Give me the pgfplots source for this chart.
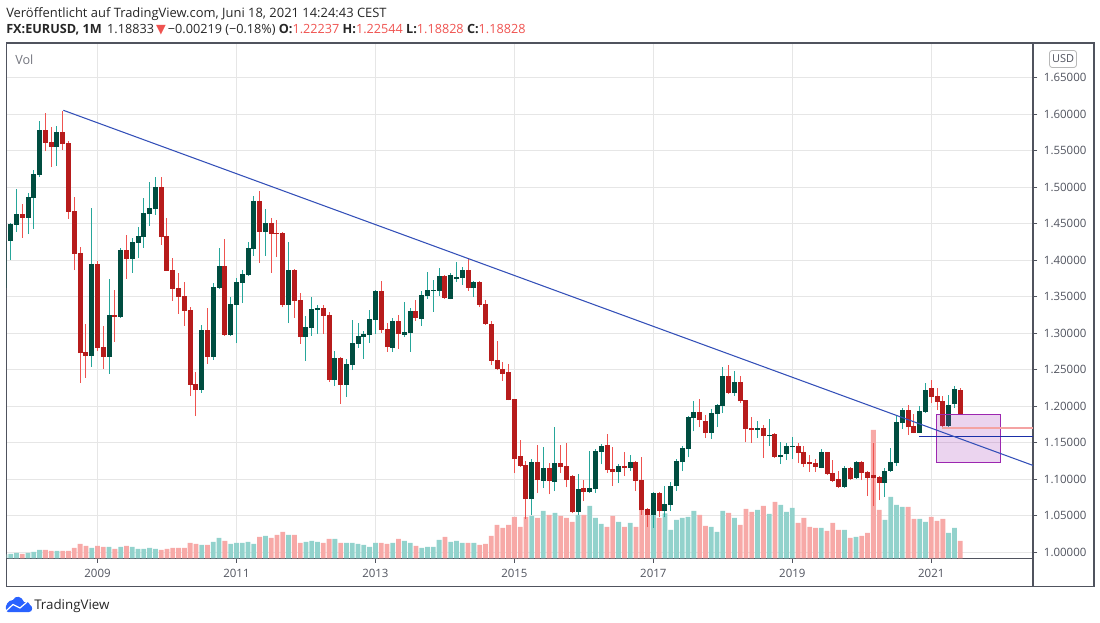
\documentclass[border=0pt]{standalone}
\usepackage{fontspec}
\usepackage{pgfplots}
\usepackage{pgfplotstable}
\pgfplotsset{compat=1.18}
\setmainfont{Open Sans}
\newfontfamily\symfont{DejaVu Sans}

\definecolor{upbody}{HTML}{004D40}
\definecolor{downbody}{HTML}{B71C1C}
\definecolor{upwick}{HTML}{26A69A}
\definecolor{downwick}{HTML}{EF5350}
\definecolor{upvol}{HTML}{92D2CC}
\definecolor{downvol}{HTML}{F7A9A7}
\definecolor{gridc}{HTML}{E6E6E6}
\definecolor{framec}{HTML}{50535E}
\definecolor{trendc}{HTML}{3450B8}
\definecolor{levelblue}{HTML}{1A2FA8}
\definecolor{levelred}{HTML}{F4A3A3}
\definecolor{boxc}{HTML}{9C27B0}
\definecolor{tvblue}{HTML}{2962FF}

% month index: 0 = Jan 2009; o h l c in EURUSD, v = bar height of the Vol pane
\pgfplotstableread{
m o h l c v
-16 1.3625 1.4324 1.3593 1.4265 12
-15 1.4265 1.4507 1.4004 1.4497 13
-14 1.4484 1.4977 1.4388 1.4634 16
-12 1.4580 1.4922 1.4360 1.4867 16
-11 1.4854 1.5237 1.4429 1.5182 19
-10 1.5169 1.5908 1.5141 1.5785 25
-7 1.5552 1.5840 1.5292 1.5758 22
-1 1.2689 1.4717 1.2539 1.3950 31
2 1.2676 1.3744 1.2443 1.3251 34
4 1.3224 1.4169 1.3210 1.4141 34
6 1.4018 1.4306 1.3826 1.4251 34
7 1.4237 1.4456 1.4032 1.4333 28
8 1.4319 1.4854 1.4169 1.4648 28
9 1.4634 1.5073 1.4470 1.4717 31
10 1.4703 1.5141 1.4621 1.5004 28
18 1.2224 1.3114 1.2183 1.3045 40
20 1.2676 1.3689 1.2635 1.3635 49
21 1.3621 1.4169 1.3607 1.3922 61
23 1.2977 1.3498 1.2963 1.3402 43
24 1.3388 1.3758 1.2867 1.3703 46
25 1.3689 1.3867 1.3415 1.3813 46
26 1.3799 1.4251 1.3785 1.4169 49
27 1.4155 1.4881 1.4059 1.4813 43
29 1.4388 1.4703 1.4059 1.4511 67
33 1.3388 1.4251 1.3141 1.3867 70
36 1.2949 1.3237 1.2621 1.3086 49
37 1.3073 1.3497 1.2963 1.3333 52
38 1.3319 1.3388 1.2990 1.3347 49
41 1.2360 1.2758 1.2278 1.2662 58
43 1.2292 1.2648 1.2128 1.2580 46
44 1.2566 1.3182 1.2497 1.2867 46
45 1.2854 1.3141 1.2799 1.2963 43
46 1.2949 1.3032 1.2648 1.2990 40
47 1.2977 1.3319 1.2867 1.3196 34
48 1.3182 1.3593 1.2990 1.3580 46
51 1.2799 1.3210 1.2744 1.3169 46
53 1.2977 1.3429 1.2949 1.3018 52
54 1.3004 1.3347 1.2744 1.3306 46
56 1.3196 1.3580 1.3100 1.3525 31
57 1.3511 1.3840 1.3470 1.3593 34
58 1.3580 1.3730 1.3292 1.3593 34
59 1.3580 1.3895 1.3511 1.3785 55
61 1.3470 1.3826 1.3465 1.3799 49
62 1.3744 1.3977 1.3703 1.3771 52
63 1.3758 1.3908 1.3662 1.3867 46
65 1.3621 1.3710 1.3497 1.3703 46
75 1.0727 1.1275 1.0508 1.1234 127
77 1.0974 1.1439 1.0878 1.1152 142
79 1.0960 1.1713 1.0837 1.1220 136
83 1.0549 1.1069 1.0508 1.0864 130
85 1.0823 1.1385 1.0809 1.0878 157
86 1.0864 1.1412 1.0809 1.1385 121
87 1.1371 1.1480 1.1206 1.1453 103
90 1.1097 1.1206 1.0946 1.1179 109
92 1.1152 1.1330 1.1111 1.1234 106
96 1.0508 1.0823 1.0330 1.0809 130
98 1.0563 1.0905 1.0480 1.0659 135
99 1.0645 1.0960 1.0563 1.0905 85
100 1.0905 1.1275 1.0837 1.1248 115
101 1.1234 1.1453 1.1111 1.1426 121
102 1.1412 1.1864 1.1302 1.1850 124
103 1.1837 1.2069 1.1658 1.1919 142
106 1.1631 1.1960 1.1549 1.1905 94
107 1.1891 1.2028 1.1713 1.2015 79
108 1.2001 1.2535 1.1905 1.2412 142
110 1.2179 1.2480 1.2138 1.2330 121
114 1.1672 1.1795 1.1563 1.1700 145
116 1.1590 1.1823 1.1453 1.1604 133
118 1.1305 1.1511 1.1209 1.1333 160
119 1.1346 1.1497 1.1264 1.1456 139
120 1.1442 1.1579 1.1278 1.1456 151
125 1.1155 1.1415 1.1150 1.1374 91
129 1.0894 1.1182 1.0881 1.1155 85
131 1.1018 1.1251 1.1004 1.1237 64
136 1.0949 1.1155 1.0757 1.1114 115
137 1.1114 1.1429 1.1100 1.1237 184
138 1.1223 1.1881 1.1182 1.1785 160
139 1.1771 1.1976 1.1689 1.1949 154
142 1.1634 1.2004 1.1628 1.1935 118
143 1.1922 1.2319 1.1915 1.2223 109
147 1.1730 1.2155 1.1703 1.2018 76
148 1.2031 1.2278 1.1976 1.2237 91
}\upbars

\pgfplotstableread{
m o h l c v
-13 1.4634 1.4771 1.4306 1.4580 13
-9 1.5785 1.6018 1.5497 1.5607 25
-8 1.5621 1.5826 1.5278 1.5552 22
-6 1.5758 1.6050 1.5511 1.5593 22
-5 1.5607 1.5634 1.4566 1.4662 22
-4 1.4676 1.4867 1.3867 1.4087 31
-3 1.4100 1.4182 1.2319 1.2730 43
-2 1.2744 1.3128 1.2388 1.2689 37
0 1.3950 1.3991 1.2758 1.2799 37
1 1.2813 1.3100 1.2511 1.2676 34
3 1.3251 1.3593 1.2881 1.3224 28
5 1.4141 1.4347 1.3744 1.4018 37
11 1.5004 1.5141 1.4210 1.4319 25
12 1.4333 1.4580 1.3854 1.3854 28
13 1.3867 1.4032 1.3443 1.3607 31
14 1.3621 1.3826 1.3265 1.3498 31
15 1.3511 1.3703 1.3100 1.3306 31
16 1.3319 1.3361 1.2141 1.2292 46
17 1.2306 1.2470 1.1867 1.2224 43
19 1.3045 1.3347 1.2580 1.2676 40
22 1.3922 1.4292 1.2963 1.2977 52
28 1.4813 1.4950 1.3963 1.4388 64
30 1.4511 1.4579 1.3826 1.4360 61
31 1.4374 1.4552 1.4045 1.4360 70
32 1.4374 1.4388 1.3360 1.3388 79
34 1.3867 1.3880 1.3210 1.3443 70
35 1.3456 1.3552 1.2854 1.2949 46
39 1.3347 1.3388 1.2990 1.3237 46
40 1.3251 1.3292 1.2333 1.2360 58
42 1.2662 1.2675 1.2032 1.2292 46
49 1.3580 1.3716 1.3004 1.3045 46
50 1.3059 1.3141 1.2744 1.2812 43
52 1.3169 1.3251 1.2785 1.2990 58
55 1.3306 1.3456 1.3169 1.3210 37
60 1.3785 1.3795 1.3470 1.3484 64
64 1.3867 1.4018 1.3580 1.3621 46
66 1.3703 1.3710 1.3360 1.3388 40
67 1.3401 1.3456 1.3120 1.3127 43
68 1.3127 1.3169 1.2566 1.2621 67
69 1.2634 1.2895 1.2497 1.2511 100
70 1.2511 1.2607 1.2347 1.2443 91
71 1.2470 1.2580 1.2080 1.2086 100
72 1.2100 1.2105 1.1086 1.1278 124
73 1.1316 1.1535 1.1170 1.1179 94
74 1.1193 1.1248 1.0453 1.0727 124
76 1.1234 1.1467 1.0809 1.0987 121
78 1.1152 1.1220 1.0795 1.0974 130
80 1.1220 1.1467 1.1083 1.1165 127
81 1.1179 1.1494 1.0891 1.0987 121
82 1.1042 1.1056 1.0535 1.0549 109
84 1.0878 1.0987 1.0700 1.0823 130
88 1.1467 1.1617 1.1083 1.1124 94
89 1.1138 1.1439 1.0905 1.1097 127
91 1.1179 1.1371 1.1042 1.1152 94
93 1.1234 1.1248 1.0837 1.0974 94
94 1.0987 1.1302 1.0508 1.0576 145
95 1.0590 1.0600 1.0343 1.0508 130
97 1.0809 1.0823 1.0480 1.0563 121
104 1.1919 1.2097 1.1713 1.1809 130
105 1.1795 1.1878 1.1563 1.1631 97
109 1.2412 1.2563 1.2170 1.2179 136
111 1.2330 1.2412 1.2042 1.2069 100
112 1.2083 1.2090 1.1508 1.1686 148
113 1.1700 1.1850 1.1494 1.1672 139
115 1.1700 1.1741 1.1289 1.1590 157
117 1.1620 1.1634 1.1292 1.1305 169
121 1.1456 1.1497 1.1223 1.1360 106
122 1.1374 1.1456 1.1168 1.1209 121
123 1.1237 1.1333 1.1100 1.1209 94
124 1.1223 1.1278 1.1100 1.1168 91
126 1.1374 1.1380 1.1059 1.1072 82
127 1.1086 1.1264 1.0963 1.0977 106
128 1.1004 1.1114 1.0881 1.0894 85
130 1.1155 1.1168 1.0990 1.1004 61
132 1.1237 1.1245 1.0990 1.1086 67
133 1.1100 1.1108 1.0771 1.1018 76
134 1.1059 1.1497 1.0634 1.1018 385
135 1.1031 1.1045 1.0716 1.0949 145
140 1.1949 1.2018 1.1607 1.1716 154
141 1.1730 1.1894 1.1628 1.1634 118
144 1.2250 1.2360 1.2045 1.2127 124
145 1.2141 1.2250 1.1949 1.2059 112
146 1.2072 1.2141 1.1689 1.1730 118
149 1.2224 1.2254 1.1883 1.1883 52
}\downbars

\pgfplotsset{
  panel/.style={
    at={(4.875pt,-418.725pt)}, anchor=south west,
    scale only axis, width=769.875pt, height=386.475pt,
    xmin=-15.717, xmax=161.57,
  },
  wicks/.style={draw=none, mark=none, forget plot,
    error bars/.cd, y dir=plus, y explicit, error mark=none,
    error bar style={draw=#1, line width=0.75pt}},
  bodies/.style={draw=none, mark=none, forget plot,
    error bars/.cd, y dir=plus, y explicit, error mark=none,
    error bar style={draw=#1, line width=3.75pt}},
}

\newcommand{\px}[1]{\fontsize{#1}{#1}\selectfont}

\begin{document}
\begin{tikzpicture}
\path[use as bounding box] (0,0) rectangle (825pt,-467.25pt);

% frame, grid and scales
\begin{axis}[
  panel,
  ymin=0.99178, ymax=1.69767,
  xtick={0,24,48,72,96,120,144},
  xticklabels={2009,2011,2013,2015,2017,2019,2021},
  ytick={1.00,1.05,1.10,1.15,1.20,1.25,1.30,1.35,1.40,1.45,1.50,1.55,1.60,1.65},
  xtick pos=bottom, ytick pos=right, yticklabel pos=right,
  tick align=outside, major tick length=3.2pt,
  tick style={color=framec, line width=0.75pt},
  grid=major, grid style={color=gridc, line width=0.75pt},
  axis line style={color=framec, line width=0.9pt},
  tick label style={font=\px{8.6}, text=framec},
  yticklabel style={/pgf/number format/.cd, assume math mode=true, fixed, fixed zerofill, precision=5, /tikz/.cd, anchor=west, xshift=1.5pt},
  xticklabel style={/pgf/number format/assume math mode=true, yshift=-1.6pt},
]
\end{axis}

% volume pane
\begin{axis}[
  panel, hide axis, ymin=0, ymax=1545.9,
  ybar, bar width=3.6pt, bar shift=0pt,
]
\addplot[fill=upvol, draw=none] table[x=m, y=v] {\upbars};
\addplot[fill=downvol, draw=none] table[x=m, y=v] {\downbars};
\end{axis}

% candles and drawings
\begin{axis}[panel, hide axis, ymin=0.99178, ymax=1.69767]
\addplot[wicks=upwick] table[x=m, y=l, y error expr=\thisrow{h}-\thisrow{l}] {\upbars};
\addplot[wicks=downwick] table[x=m, y=l, y error expr=\thisrow{h}-\thisrow{l}] {\downbars};
\addplot[bodies=upbody] table[x=m, y=o, y error expr=\thisrow{c}-\thisrow{o}] {\upbars};
\addplot[bodies=downbody] table[x=m, y=c, y error expr=\thisrow{o}-\thisrow{c}] {\downbars};
\addplot[draw=boxc, fill=boxc, fill opacity=0.2, line width=0.9pt] coordinates {(144.87,1.1891) (155.92,1.1891) (155.92,1.1232) (144.87,1.1232)} -- cycle;
\addplot[color=levelred, line width=1.1pt] coordinates {(145.9,1.1703) (161.57,1.1703)};
\addplot[color=levelblue, line width=0.8pt] coordinates {(141.9,1.1589) (161.57,1.1589)};
\addplot[color=trendc, line width=0.8pt] coordinates {(-5.9,1.6055) (161.57,1.1190)};
\end{axis}

\begin{scope}[x=0.75pt, y=-0.75pt]
% outer frame of the scale pane
\draw[color=framec, line width=0.9pt] (1033,43) -- (1094,43) -- (1094,586.5) -- (6.5,586.5) -- (6.5,558.3);
\draw[color=framec, line width=0.9pt] (1033,558.3) -- (1033,586.5);

\node[anchor=base west, inner sep=0pt, text=black!85] at (6,17.5) {\px{9.7}Veröffentlicht auf TradingView.com, Juni 18, 2021 14:24:43 CEST};
\node[anchor=base west, inner sep=0pt, text=black!85] at (6,34) {\px{9.5}\textbf{FX:EURUSD, 1M}\hspace{4pt}1.18833\,{\symfont\textcolor{downwick}{▼}}\,−0.00219 (−0.18\%) \textbf{O:}\textcolor{downwick}{1.22237} \textbf{H:}\textcolor{downwick}{1.22544} \textbf{L:}\textcolor{downwick}{1.18828} \textbf{C:}\textcolor{downwick}{1.18828}};

\node[anchor=base west, inner sep=0pt, text=framec!80] at (15,65) {\px{9.5}Vol};

\draw[color=gridc!80!black, fill=white, rounded corners=2pt, line width=0.6pt] (1049.5,50.5) rectangle (1076.5,67.5);
\node[text=framec, inner sep=0pt] at (1063,59) {\px{8.2}USD};

% logo
\fill[tvblue] (8,612) -- (29,612) .. controls (33,612) and (33,606) .. (30,605)
  .. controls (29,602) and (26,601) .. (24,602) .. controls (22,596) and (15,595) .. (13,600)
  .. controls (8,600) and (5,606) .. (6,609) .. controls (6,611) and (7,612) .. (8,612) -- cycle;
\draw[white, line width=0.9pt] (6,611) -- (13,604.5) -- (20,608) -- (27,602);
\node[anchor=base west, inner sep=0pt, text=black!85] at (34,609) {\px{10}TradingView};
\end{scope}
\end{tikzpicture}
\end{document}
